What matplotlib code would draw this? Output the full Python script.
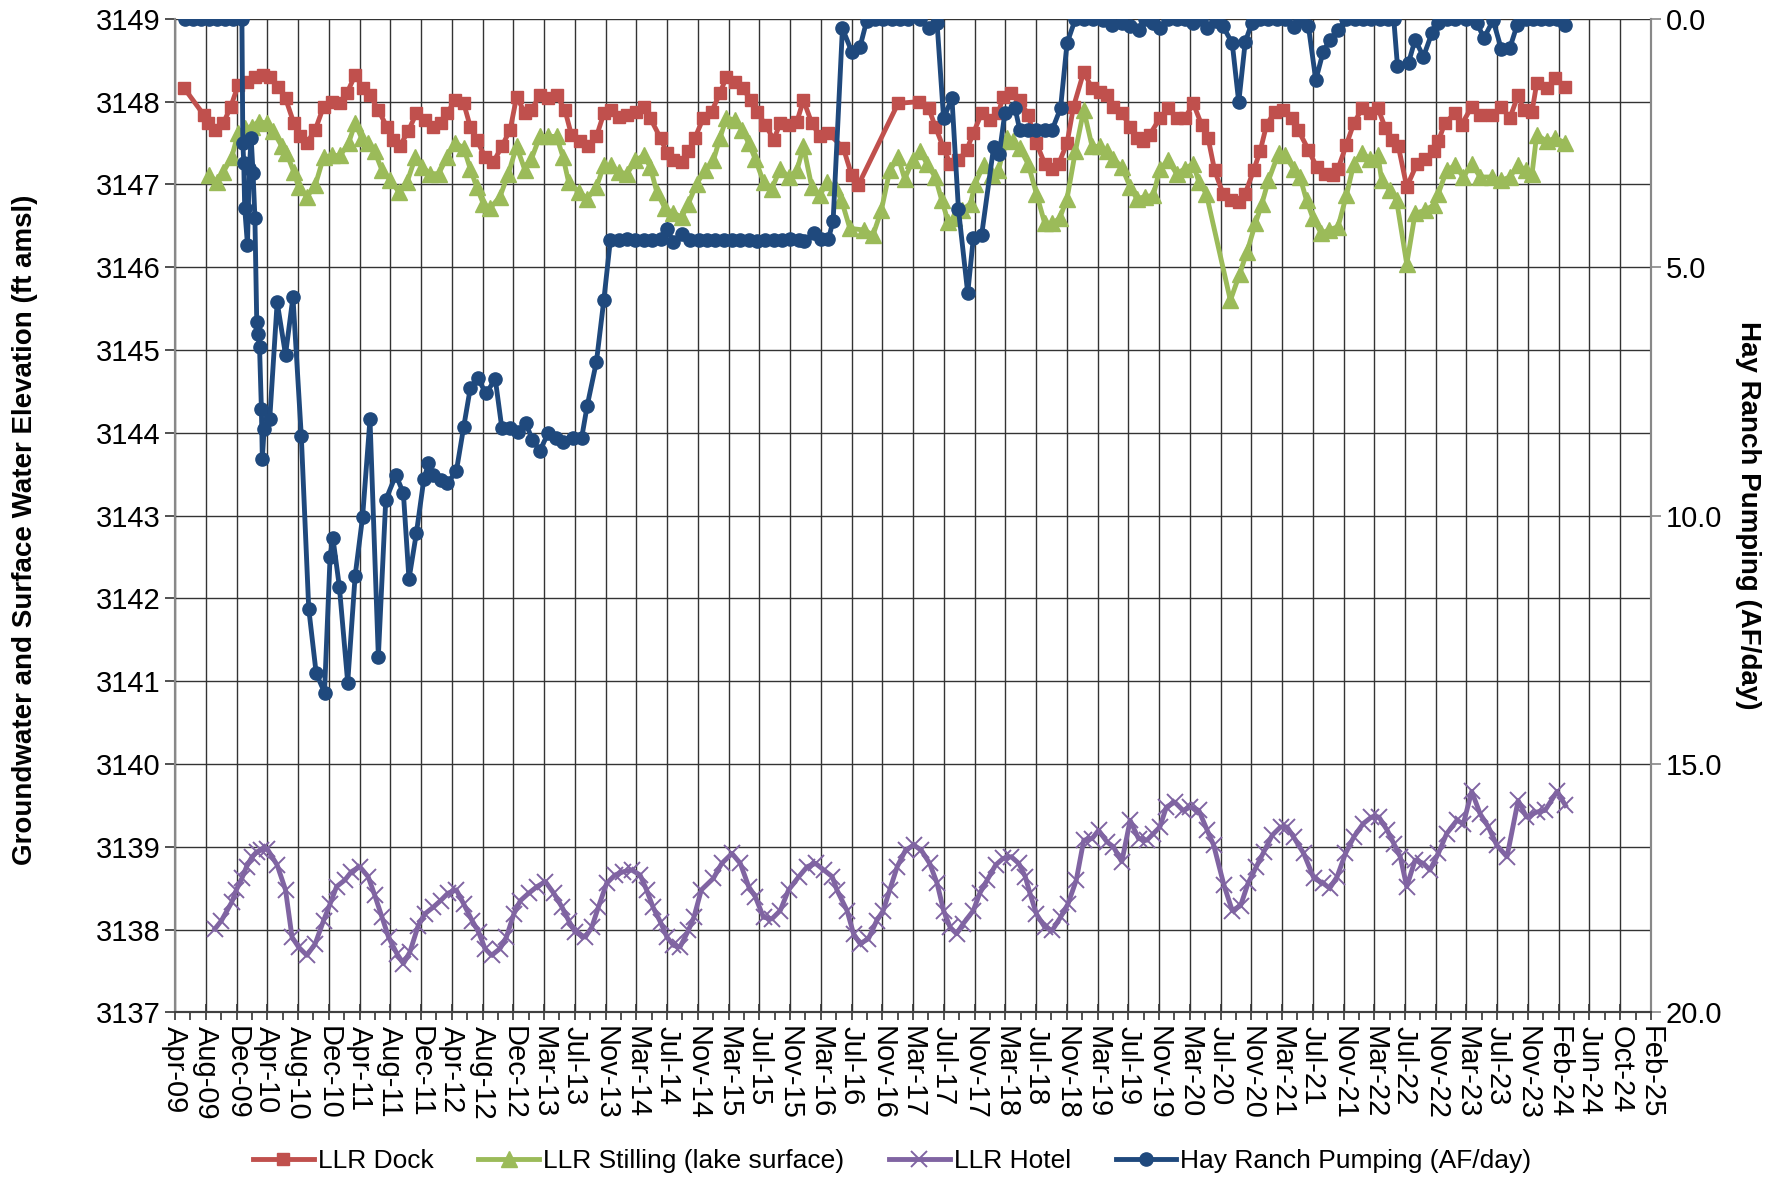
import matplotlib.pyplot as plt
import numpy as np

plt.rcParams['font.family'] = ['Liberation Sans', 'DejaVu Sans']

# dates are decimal years

# LLR Dock (ft amsl)
dock_yr = [2009.35, 2009.56, 2009.61, 2009.68, 2009.77, 2009.85, 2009.93, 2010.02, 2010.11, 2010.20,
           2010.27, 2010.36, 2010.44, 2010.53, 2010.60, 2010.67, 2010.76, 2010.85, 2010.94, 2011.03,
           2011.10, 2011.19, 2011.28, 2011.35, 2011.44, 2011.53, 2011.60, 2011.67, 2011.76, 2011.85,
           2011.94, 2012.03, 2012.11, 2012.18, 2012.27, 2012.36, 2012.43, 2012.50, 2012.59, 2012.68,
           2012.77, 2012.86, 2012.93, 2013.02, 2013.09, 2013.18, 2013.27, 2013.36, 2013.45, 2013.52,
           2013.61, 2013.70, 2013.79, 2013.87, 2013.95, 2014.03, 2014.12, 2014.22, 2014.30, 2014.37,
           2014.48, 2014.55, 2014.62, 2014.71, 2014.78, 2014.85, 2014.94, 2015.03, 2015.12, 2015.19,
           2015.28, 2015.37, 2015.45, 2015.52, 2015.61, 2015.70, 2015.77, 2015.86, 2015.95, 2016.02,
           2016.11, 2016.20, 2016.29, 2016.45, 2016.54, 2016.61, 2017.04, 2017.26, 2017.37, 2017.44,
           2017.53, 2017.60, 2017.69, 2017.78, 2017.85, 2017.94, 2018.03, 2018.12, 2018.17, 2018.26,
           2018.35, 2018.44, 2018.53, 2018.62, 2018.70, 2018.77, 2018.86, 2018.93, 2019.04, 2019.13,
           2019.22, 2019.29, 2019.36, 2019.45, 2019.54, 2019.61, 2019.68, 2019.75, 2019.86, 2019.95,
           2020.04, 2020.13, 2020.22, 2020.31, 2020.38, 2020.45, 2020.54, 2020.63, 2020.71, 2020.78,
           2020.87, 2020.94, 2021.01, 2021.10, 2021.19, 2021.28, 2021.35, 2021.46, 2021.55, 2021.64,
           2021.73, 2021.78, 2021.87, 2021.95, 2022.04, 2022.12, 2022.21, 2022.29, 2022.36, 2022.43,
           2022.52, 2022.63, 2022.72, 2022.81, 2022.86, 2022.93, 2023.04, 2023.11, 2023.22, 2023.31,
           2023.44, 2023.54, 2023.63, 2023.72, 2023.78, 2023.87, 2023.92, 2024.03, 2024.12, 2024.23]
dock_el = [3148.16, 3147.84, 3147.74, 3147.66, 3147.74, 3147.94, 3148.20, 3148.24, 3148.30, 3148.32,
           3148.30, 3148.18, 3148.04, 3147.74, 3147.58, 3147.50, 3147.66, 3147.94, 3148.00, 3147.98,
           3148.10, 3148.32, 3148.16, 3148.08, 3147.90, 3147.70, 3147.54, 3147.46, 3147.64, 3147.86,
           3147.78, 3147.70, 3147.74, 3147.86, 3148.02, 3147.98, 3147.70, 3147.54, 3147.33, 3147.27,
           3147.46, 3147.66, 3148.06, 3147.86, 3147.90, 3148.08, 3148.04, 3148.08, 3147.90, 3147.60,
           3147.52, 3147.46, 3147.58, 3147.86, 3147.90, 3147.82, 3147.84, 3147.88, 3147.94, 3147.80,
           3147.56, 3147.38, 3147.29, 3147.27, 3147.40, 3147.56, 3147.80, 3147.88, 3148.10, 3148.30,
           3148.24, 3148.16, 3148.02, 3147.88, 3147.72, 3147.54, 3147.74, 3147.72, 3147.76, 3148.02,
           3147.74, 3147.58, 3147.62, 3147.44, 3147.11, 3146.99, 3147.98, 3148.00, 3147.92, 3147.70,
           3147.44, 3147.25, 3147.29, 3147.42, 3147.62, 3147.86, 3147.78, 3147.86, 3148.06, 3148.10,
           3148.02, 3147.84, 3147.50, 3147.25, 3147.19, 3147.25, 3147.50, 3147.94, 3148.36, 3148.16,
           3148.12, 3148.08, 3147.94, 3147.86, 3147.70, 3147.56, 3147.52, 3147.60, 3147.80, 3147.92,
           3147.80, 3147.80, 3147.98, 3147.72, 3147.56, 3147.17, 3146.89, 3146.81, 3146.79, 3146.89,
           3147.17, 3147.40, 3147.72, 3147.88, 3147.90, 3147.80, 3147.66, 3147.42, 3147.21, 3147.13,
           3147.11, 3147.19, 3147.48, 3147.74, 3147.92, 3147.86, 3147.92, 3147.68, 3147.54, 3147.46,
           3146.97, 3147.25, 3147.31, 3147.40, 3147.52, 3147.74, 3147.86, 3147.72, 3147.94, 3147.84,
           3147.84, 3147.94, 3147.80, 3148.08, 3147.90, 3147.88, 3148.22, 3148.16, 3148.28, 3148.18]

# LLR Stilling (lake surface)
still_yr = [2009.62, 2009.70, 2009.77, 2009.86, 2009.93, 2010.00, 2010.08, 2010.15, 2010.24, 2010.31,
            2010.40, 2010.45, 2010.53, 2010.58, 2010.67, 2010.76, 2010.85, 2010.94, 2011.03, 2011.12,
            2011.19, 2011.26, 2011.33, 2011.40, 2011.48, 2011.57, 2011.66, 2011.75, 2011.84, 2011.91,
            2012.00, 2012.09, 2012.18, 2012.27, 2012.36, 2012.43, 2012.50, 2012.57, 2012.64, 2012.75,
            2012.84, 2012.93, 2013.02, 2013.09, 2013.18, 2013.27, 2013.36, 2013.43, 2013.49, 2013.60,
            2013.69, 2013.79, 2013.87, 2013.95, 2014.03, 2014.12, 2014.21, 2014.30, 2014.37, 2014.44,
            2014.53, 2014.62, 2014.71, 2014.78, 2014.87, 2014.96, 2015.05, 2015.12, 2015.19, 2015.28,
            2015.36, 2015.43, 2015.50, 2015.59, 2015.68, 2015.77, 2015.86, 2015.95, 2016.02, 2016.11,
            2016.20, 2016.27, 2016.36, 2016.43, 2016.52, 2016.67, 2016.77, 2016.86, 2016.95, 2017.04,
            2017.11, 2017.20, 2017.28, 2017.35, 2017.44, 2017.51, 2017.58, 2017.64, 2017.73, 2017.82,
            2017.87, 2017.96, 2018.05, 2018.12, 2018.21, 2018.28, 2018.35, 2018.44, 2018.53, 2018.62,
            2018.70, 2018.78, 2018.86, 2018.95, 2019.04, 2019.13, 2019.22, 2019.29, 2019.36, 2019.45,
            2019.54, 2019.61, 2019.70, 2019.79, 2019.86, 2019.95, 2020.04, 2020.13, 2020.22, 2020.28,
            2020.36, 2020.62, 2020.72, 2020.80, 2020.89, 2020.96, 2021.03, 2021.14, 2021.21, 2021.30,
            2021.37, 2021.44, 2021.51, 2021.60, 2021.68, 2021.78, 2021.87, 2021.95, 2022.04, 2022.12,
            2022.21, 2022.25, 2022.34, 2022.41, 2022.52, 2022.61, 2022.72, 2022.81, 2022.86, 2022.95,
            2023.04, 2023.13, 2023.22, 2023.31, 2023.44, 2023.54, 2023.63, 2023.72, 2023.81, 2023.87,
            2023.92, 2024.03, 2024.12, 2024.23]
still_el = [3147.11, 3147.03, 3147.15, 3147.33, 3147.62, 3147.68, 3147.70, 3147.76, 3147.74, 3147.64,
            3147.46, 3147.38, 3147.15, 3146.97, 3146.85, 3146.99, 3147.33, 3147.35, 3147.35, 3147.50,
            3147.74, 3147.56, 3147.50, 3147.40, 3147.17, 3147.05, 3146.91, 3147.03, 3147.33, 3147.21,
            3147.13, 3147.13, 3147.33, 3147.50, 3147.44, 3147.19, 3146.97, 3146.77, 3146.71, 3146.85,
            3147.13, 3147.46, 3147.17, 3147.31, 3147.58, 3147.58, 3147.58, 3147.33, 3147.03, 3146.91,
            3146.83, 3146.97, 3147.23, 3147.23, 3147.15, 3147.13, 3147.29, 3147.35, 3147.21, 3146.91,
            3146.71, 3146.65, 3146.61, 3146.77, 3147.01, 3147.17, 3147.29, 3147.56, 3147.80, 3147.78,
            3147.66, 3147.50, 3147.31, 3147.03, 3146.95, 3147.19, 3147.09, 3147.17, 3147.46, 3146.97,
            3146.87, 3147.03, 3146.97, 3146.81, 3146.47, 3146.45, 3146.39, 3146.69, 3147.17, 3147.33,
            3147.07, 3147.29, 3147.40, 3147.25, 3147.09, 3146.81, 3146.55, 3146.59, 3146.69, 3146.77,
            3147.01, 3147.23, 3147.11, 3147.17, 3147.56, 3147.52, 3147.44, 3147.25, 3146.89, 3146.53,
            3146.53, 3146.59, 3146.83, 3147.40, 3147.90, 3147.46, 3147.46, 3147.40, 3147.31, 3147.21,
            3146.97, 3146.83, 3146.85, 3146.87, 3147.19, 3147.29, 3147.13, 3147.19, 3147.25, 3147.03,
            3146.89, 3145.60, 3145.92, 3146.19, 3146.53, 3146.77, 3147.05, 3147.38, 3147.35, 3147.19,
            3147.09, 3146.81, 3146.59, 3146.41, 3146.45, 3146.49, 3146.87, 3147.25, 3147.38, 3147.31,
            3147.35, 3147.05, 3146.93, 3146.81, 3146.04, 3146.65, 3146.69, 3146.75, 3146.89, 3147.17,
            3147.23, 3147.09, 3147.25, 3147.09, 3147.09, 3147.05, 3147.09, 3147.23, 3147.17, 3147.13,
            3147.60, 3147.52, 3147.56, 3147.50]

# LLR Hotel
hotel_yr = [2009.68, 2009.75, 2009.86, 2009.91, 2009.97, 2010.02, 2010.08, 2010.13, 2010.18, 2010.24,
            2010.35, 2010.44, 2010.51, 2010.58, 2010.67, 2010.76, 2010.85, 2010.92, 2010.99, 2011.08,
            2011.15, 2011.24, 2011.33, 2011.40, 2011.48, 2011.55, 2011.64, 2011.71, 2011.78, 2011.87,
            2011.94, 2012.03, 2012.11, 2012.19, 2012.28, 2012.36, 2012.45, 2012.52, 2012.59, 2012.66,
            2012.75, 2012.82, 2012.90, 2012.97, 2013.06, 2013.15, 2013.24, 2013.33, 2013.42, 2013.49,
            2013.56, 2013.67, 2013.74, 2013.81, 2013.90, 2013.99, 2014.08, 2014.17, 2014.26, 2014.33,
            2014.40, 2014.48, 2014.55, 2014.62, 2014.69, 2014.78, 2014.84, 2014.92, 2015.05, 2015.14,
            2015.25, 2015.34, 2015.43, 2015.50, 2015.59, 2015.68, 2015.77, 2015.86, 2015.97, 2016.06,
            2016.15, 2016.24, 2016.33, 2016.38, 2016.49, 2016.56, 2016.63, 2016.72, 2016.81, 2016.88,
            2016.95, 2017.03, 2017.12, 2017.21, 2017.29, 2017.38, 2017.46, 2017.53, 2017.60, 2017.67,
            2017.74, 2017.85, 2017.92, 2018.00, 2018.09, 2018.17, 2018.26, 2018.34, 2018.41, 2018.46,
            2018.53, 2018.62, 2018.70, 2018.79, 2018.87, 2018.96, 2019.04, 2019.13, 2019.20, 2019.29,
            2019.36, 2019.45, 2019.54, 2019.63, 2019.72, 2019.79, 2019.86, 2019.93, 2020.02, 2020.11,
            2020.19, 2020.28, 2020.37, 2020.44, 2020.55, 2020.64, 2020.73, 2020.81, 2020.90, 2020.98,
            2021.07, 2021.16, 2021.23, 2021.30, 2021.41, 2021.52, 2021.62, 2021.69, 2021.77, 2021.86,
            2021.95, 2022.05, 2022.14, 2022.22, 2022.31, 2022.38, 2022.45, 2022.52, 2022.61, 2022.70,
            2022.77, 2022.86, 2022.95, 2023.06, 2023.13, 2023.22, 2023.31, 2023.40, 2023.49, 2023.60,
            2023.72, 2023.81, 2023.92, 2024.01, 2024.14, 2024.23]
hotel_el = [3138.01, 3138.11, 3138.33, 3138.48, 3138.62, 3138.76, 3138.88, 3138.94, 3138.96, 3138.98,
            3138.78, 3138.48, 3137.91, 3137.79, 3137.69, 3137.83, 3138.11, 3138.31, 3138.52, 3138.60,
            3138.70, 3138.76, 3138.64, 3138.42, 3138.15, 3137.91, 3137.71, 3137.59, 3137.73, 3138.05,
            3138.19, 3138.27, 3138.35, 3138.44, 3138.48, 3138.31, 3138.11, 3137.97, 3137.77, 3137.69,
            3137.77, 3137.91, 3138.19, 3138.35, 3138.44, 3138.52, 3138.58, 3138.44, 3138.27, 3138.11,
            3137.97, 3137.91, 3138.03, 3138.27, 3138.56, 3138.66, 3138.70, 3138.72, 3138.66, 3138.48,
            3138.27, 3138.09, 3137.91, 3137.81, 3137.79, 3137.99, 3138.15, 3138.48, 3138.62, 3138.80,
            3138.92, 3138.80, 3138.52, 3138.40, 3138.15, 3138.13, 3138.23, 3138.48, 3138.64, 3138.76,
            3138.80, 3138.72, 3138.64, 3138.48, 3138.23, 3137.95, 3137.83, 3137.89, 3138.11, 3138.23,
            3138.48, 3138.76, 3138.96, 3139.02, 3138.96, 3138.80, 3138.56, 3138.23, 3138.03, 3137.95,
            3138.07, 3138.23, 3138.44, 3138.60, 3138.78, 3138.86, 3138.88, 3138.80, 3138.64, 3138.44,
            3138.19, 3138.03, 3137.99, 3138.15, 3138.31, 3138.60, 3139.08, 3139.10, 3139.20, 3139.06,
            3139.00, 3138.82, 3139.32, 3139.10, 3139.08, 3139.16, 3139.24, 3139.48, 3139.54, 3139.44,
            3139.48, 3139.44, 3139.20, 3139.02, 3138.54, 3138.23, 3138.29, 3138.56, 3138.76, 3138.94,
            3139.14, 3139.24, 3139.24, 3139.12, 3138.92, 3138.62, 3138.56, 3138.50, 3138.64, 3138.92,
            3139.12, 3139.28, 3139.36, 3139.36, 3139.20, 3139.04, 3138.88, 3138.52, 3138.84, 3138.80,
            3138.72, 3138.92, 3139.16, 3139.32, 3139.28, 3139.67, 3139.40, 3139.24, 3139.02, 3138.88,
            3139.56, 3139.36, 3139.42, 3139.44, 3139.67, 3139.50]

# Hay Ranch Pumping (AF/day)
pump_yr = [2009.36, 2009.44, 2009.53, 2009.62, 2009.70, 2009.79, 2009.87, 2009.97, 2009.98, 2009.99,
           2010.00, 2010.03, 2010.05, 2010.07, 2010.09, 2010.11, 2010.13, 2010.14, 2010.16, 2010.18,
           2010.19, 2010.21, 2010.27, 2010.35, 2010.44, 2010.52, 2010.61, 2010.69, 2010.77, 2010.86,
           2010.92, 2010.95, 2011.02, 2011.11, 2011.19, 2011.27, 2011.35, 2011.44, 2011.52, 2011.63,
           2011.71, 2011.77, 2011.85, 2011.93, 2011.98, 2012.03, 2012.11, 2012.18, 2012.28, 2012.36,
           2012.43, 2012.51, 2012.60, 2012.70, 2012.77, 2012.86, 2012.94, 2013.03, 2013.10, 2013.18,
           2013.27, 2013.35, 2013.43, 2013.54, 2013.63, 2013.69, 2013.79, 2013.87, 2013.94, 2014.03,
           2014.12, 2014.21, 2014.30, 2014.39, 2014.48, 2014.55, 2014.62, 2014.71, 2014.80, 2014.89,
           2014.98, 2015.07, 2015.16, 2015.25, 2015.34, 2015.43, 2015.52, 2015.61, 2015.70, 2015.79,
           2015.88, 2015.97, 2016.03, 2016.13, 2016.21, 2016.29, 2016.34, 2016.44, 2016.54, 2016.63,
           2016.70, 2016.79, 2016.88, 2016.97, 2017.06, 2017.15, 2017.28, 2017.37, 2017.46, 2017.53,
           2017.62, 2017.69, 2017.79, 2017.85, 2017.94, 2018.07, 2018.13, 2018.19, 2018.30, 2018.35,
           2018.44, 2018.53, 2018.62, 2018.70, 2018.79, 2018.86, 2018.95, 2019.04, 2019.14, 2019.25,
           2019.34, 2019.45, 2019.54, 2019.63, 2019.70, 2019.79, 2019.86, 2019.95, 2020.04, 2020.13,
           2020.22, 2020.30, 2020.37, 2020.46, 2020.54, 2020.64, 2020.71, 2020.78, 2020.85, 2020.94,
           2021.03, 2021.12, 2021.21, 2021.30, 2021.37, 2021.46, 2021.54, 2021.62, 2021.69, 2021.78,
           2021.87, 2021.96, 2022.05, 2022.14, 2022.23, 2022.32, 2022.38, 2022.42, 2022.54, 2022.61,
           2022.70, 2022.79, 2022.86, 2022.95, 2023.04, 2023.16, 2023.28, 2023.35, 2023.45, 2023.54,
           2023.63, 2023.71, 2023.80, 2023.88, 2023.97, 2024.05, 2024.14, 2024.23]
pump_af = [0, 0, 0, 0, 0, 0, 0, 0, 2.5, 2.9,
           3.8, 4.55, 3.0, 2.4, 3.1, 4.0, 6.1, 6.35, 6.6, 7.85,
           8.85, 8.25, 8.05, 5.7, 6.76, 5.6, 8.4, 11.87, 13.17, 13.56,
           10.83, 10.44, 11.43, 13.36, 11.21, 10.03, 8.06, 12.84, 9.68, 9.18,
           9.55, 11.28, 10.35, 9.27, 8.95, 9.18, 9.28, 9.35, 9.11, 8.21,
           7.44, 7.23, 7.54, 7.25, 8.23, 8.24, 8.31, 8.14, 8.48, 8.69,
           8.34, 8.44, 8.51, 8.44, 8.44, 7.79, 6.9, 5.65, 4.45, 4.45,
           4.43, 4.45, 4.45, 4.45, 4.43, 4.23, 4.50, 4.33, 4.45, 4.45,
           4.45, 4.45, 4.45, 4.45, 4.45, 4.45, 4.47, 4.45, 4.45, 4.45,
           4.43, 4.45, 4.47, 4.32, 4.43, 4.43, 4.06, 0.19, 0.66, 0.56,
           0.05, 0, 0, 0, 0, 0, 0, 0.19, 0.09, 2.0,
           1.6, 3.83, 5.52, 4.42, 4.35, 2.57, 2.72, 1.90, 1.80, 2.23,
           2.23, 2.23, 2.23, 2.23, 1.80, 0.49, 0, 0, 0, 0.03,
           0.12, 0.09, 0.14, 0.23, 0, 0.09, 0.19, 0, 0, 0,
           0.09, 0, 0.19, 0.05, 0.15, 0.49, 1.68, 0.46, 0.09, 0,
           0, 0, 0, 0.17, 0.03, 0.14, 1.23, 0.66, 0.42, 0.22,
           0, 0, 0, 0, 0, 0, 0, 0.95, 0.88, 0.42,
           0.76, 0.29, 0.09, 0, 0, 0, 0.09, 0.39, 0.03, 0.61,
           0.59, 0.12, 0, 0, 0, 0, 0, 0.12]

tick_labels = ['Apr-09', 'Aug-09', 'Dec-09', 'Apr-10', 'Aug-10', 'Dec-10', 'Apr-11', 'Aug-11',
               'Dec-11', 'Apr-12', 'Aug-12', 'Dec-12', 'Mar-13', 'Jul-13', 'Nov-13', 'Mar-14',
               'Jul-14', 'Nov-14', 'Mar-15', 'Jul-15', 'Nov-15', 'Mar-16', 'Jul-16', 'Nov-16',
               'Mar-17', 'Jul-17', 'Nov-17', 'Mar-18', 'Jul-18', 'Nov-18', 'Mar-19', 'Jul-19',
               'Nov-19', 'Mar-20', 'Jul-20', 'Nov-20', 'Mar-21', 'Jul-21', 'Nov-21', 'Mar-22',
               'Jul-22', 'Nov-22', 'Mar-23', 'Jul-23', 'Nov-23', 'Feb-24', 'Jun-24', 'Oct-24',
               'Feb-25']

# axis setup: Excel date axis, major unit 121 days
t0 = 2009.25
step = 121 / 365.25
xticks = t0 + step * np.arange(len(tick_labels))

fig = plt.figure(figsize=(17.81, 11.80), dpi=100)
ax = fig.add_axes([0.0983, 0.142, 0.8287, 0.842])
ax2 = ax.twinx()

gridc = '#333333'
fs = 21

ax.plot(dock_yr, dock_el, color='#C0504D', lw=3.5, marker='s', ms=8.5, label='LLR Dock', zorder=3)
ax.plot(still_yr, still_el, color='#9BBB59', lw=3.5, marker='^', ms=11, label='LLR Stilling (lake surface)', zorder=3)
ax.plot(hotel_yr, hotel_el, color='#8064A2', lw=3.5, marker='x', ms=12, mew=1.4, label='LLR Hotel', zorder=3)
ax2.plot(pump_yr, pump_af, color='#1F497D', lw=3.5, marker='o', ms=9.5, label='Hay Ranch Pumping (AF/day)')

ax.set_xlim(xticks[0], xticks[-1])
ax.set_ylim(3137, 3149)
ax.set_yticks(np.arange(3137, 3150, 1))
ax.set_xticks(xticks)
ax.set_xticks(xticks[:-1] + step / 2, minor=True)
ax.set_xticklabels(tick_labels, rotation=-90, fontsize=fs)
ax.tick_params(axis='y', labelsize=fs, direction='out', length=7, width=1.2, color=gridc)
ax.tick_params(axis='x', which='major', direction='inout', length=12, width=1.2, color=gridc, pad=4)
ax.tick_params(axis='x', which='minor', direction='out', length=6, width=1.2, color=gridc)
ax.grid(True, which='major', color=gridc, lw=1.0)
ax.set_axisbelow(True)

ax2.set_ylim(20, 0)
ax2.set_yticks([0, 5, 10, 15, 20])
ax2.set_yticklabels(['%.1f' % v for v in [0, 5, 10, 15, 20]])
ax2.tick_params(axis='y', labelsize=fs, direction='out', length=7, width=1.2, color='#888888')

for a in (ax, ax2):
    for s in ['left', 'right', 'top']:
        a.spines[s].set_color('#888888')
        a.spines[s].set_linewidth(1.5)
    a.spines['bottom'].set_color('#404040')
    a.spines['bottom'].set_linewidth(1.5)
ax.spines['top'].set_visible(False)
ax2.spines['top'].set_visible(False)

ax.set_ylabel('Groundwater and Surface Water Elevation (ft amsl)', fontsize=20, fontweight='bold', va='center')
ax.yaxis.set_label_coords(-0.1016, 0.486)
ax2.set_ylabel('Hay Ranch Pumping (AF/day)', fontsize=20, fontweight='bold', rotation=-90, va='center')
ax2.yaxis.set_label_coords(1.066, 0.5)

h1, l1 = ax.get_legend_handles_labels()
h2, l2 = ax2.get_legend_handles_labels()
fig.legend(h1 + h2, l1 + l2, loc='lower center', bbox_to_anchor=(0.501, -0.014), ncol=4,
           frameon=False, fontsize=19, handlelength=2.3, handletextpad=0.15, columnspacing=1.7)

fig.savefig('out.png', dpi=100)
